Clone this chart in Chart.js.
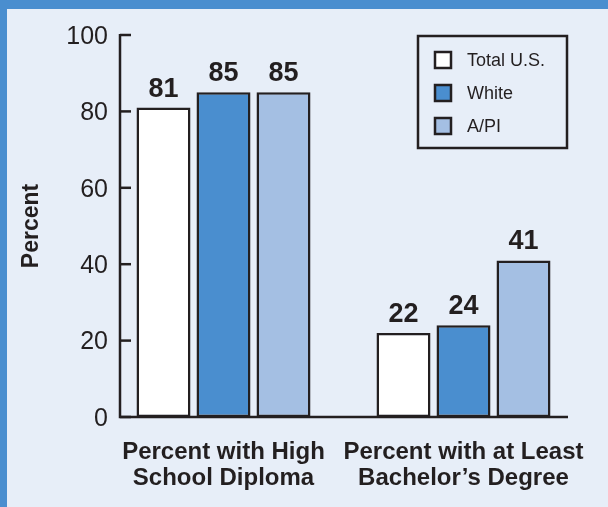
<!DOCTYPE html>
<html>
<head>
<meta charset="utf-8">
<style>
  html, body { margin: 0; padding: 0; background: #e7eef8; }
  #wrap { width: 608px; height: 507px; position: relative; }
</style>
<script src="https://cdn.jsdelivr.net/npm/chart.js@4"></script>
</head>
<body>
<div id="wrap"><canvas id="chart" width="608" height="507"></canvas></div>
<script>
const categories = [
  ["Percent with High", "School Diploma"],
  ["Percent with at Least", "Bachelor\u2019s Degree"],
];
const seriesNames = ["Total U.S.", "White", "A/PI"];
const totalUS = [81, 22];
const white = [85, 24];
const api = [85, 41];
const yTicks = [0, 20, 40, 60, 80, 100];

const FONT = "'Liberation Sans', Arial, Helvetica, sans-serif";
const INK = "#231f20";
const BG = "#e7eef8";
const FRAME = "#4a8ecf";
const COLORS = ["#ffffff", "#4a8ecf", "#a4bfe3"];

// frame, axes, value labels and legend box
const decor = {
  id: "decor",
  beforeDraw(chart) {
    const ctx = chart.ctx;
    ctx.save();
    ctx.fillStyle = BG;
    ctx.fillRect(0, 0, chart.width, chart.height);
    ctx.fillStyle = FRAME;
    ctx.fillRect(0, 0, chart.width, 9);
    ctx.fillRect(0, 0, 7, chart.height);
    ctx.restore();
  },
  afterDatasetsDraw(chart) {
    const ctx = chart.ctx;
    const y = chart.scales.y;
    const axisX = 120;
    const base = y.getPixelForValue(0);
    ctx.save();
    ctx.strokeStyle = INK;
    ctx.lineWidth = 2.5;
    ctx.lineCap = "butt";
    ctx.beginPath();
    ctx.moveTo(axisX, y.getPixelForValue(100) - 1);
    ctx.lineTo(axisX, base);
    ctx.lineTo(568, base);
    ctx.stroke();
    yTicks.forEach((v) => {
      const py = y.getPixelForValue(v);
      ctx.beginPath();
      ctx.moveTo(axisX, py);
      ctx.lineTo(axisX + 11, py);
      ctx.stroke();
    });

    // value labels
    ctx.fillStyle = INK;
    ctx.font = "bold 27px " + FONT;
    ctx.textAlign = "center";
    ctx.textBaseline = "alphabetic";
    chart.data.datasets.forEach((ds, i) => {
      chart.getDatasetMeta(i).data.forEach((bar, j) => {
        ctx.fillText(String(ds.data[j]), bar.x, bar.y - 11);
      });
    });

    // legend
    ctx.lineWidth = 2.5;
    ctx.strokeRect(418, 36, 149, 112);
    ctx.font = "18px " + FONT;
    ctx.textAlign = "left";
    ctx.textBaseline = "middle";
    chart.data.datasets.forEach((ds, i) => {
      const cy = 60 + i * 33;
      ctx.fillStyle = ds.backgroundColor;
      ctx.fillRect(435, cy - 8, 16, 16);
      ctx.strokeRect(435, cy - 8, 16, 16);
      ctx.fillStyle = INK;
      ctx.fillText(ds.label, 467, cy + 1);
    });
    ctx.restore();
  },
};

const barStyle = {
  borderColor: INK,
  borderWidth: 2.5,
  borderSkipped: false,
  categoryPercentage: 0.75,
  barPercentage: 0.9,
};

new Chart(document.getElementById("chart"), {
  type: "bar",
  data: {
    labels: categories,
    datasets: [
      { label: seriesNames[0], data: totalUS, backgroundColor: COLORS[0], ...barStyle },
      { label: seriesNames[1], data: white, backgroundColor: COLORS[1], ...barStyle },
      { label: seriesNames[2], data: api, backgroundColor: COLORS[2], ...barStyle },
    ],
  },
  options: {
    responsive: false,
    animation: false,
    events: [],
    layout: { padding: { top: 35, right: 24.5, bottom: 0, left: 0 } },
    plugins: {
      legend: { display: false },
      tooltip: { enabled: false },
    },
    scales: {
      x: {
        offset: true,
        grid: { display: false, drawTicks: false },
        border: { display: false },
        afterFit: (s) => {
          s.height = 90;
          s.paddingLeft = 0;
          s.paddingRight = 0;
        },
        ticks: {
          padding: 22.5,
          color: INK,
          maxRotation: 0,
          autoSkip: false,
          font: { family: FONT, size: 24, weight: "bold", lineHeight: 1.08 },
        },
      },
      y: {
        min: 0,
        max: 100,
        grid: { display: false, drawTicks: false },
        border: { display: false },
        afterFit: (s) => { s.width = 103.5; },
        afterBuildTicks: (s) => { s.ticks = yTicks.map((v) => ({ value: v })); },
        title: {
          display: true,
          text: "Percent",
          color: INK,
          padding: { top: 18, bottom: 0 },
          font: { family: FONT, size: 23, weight: "bold", lineHeight: 1.2 },
        },
        ticks: {
          // mirrored + right aligned so the labels can sit a little past the scale box
          mirror: true,
          crossAlign: "far",
          padding: -37.2,
          labelOffset: 2,
          color: INK,
          font: { family: FONT, size: 25 },
        },
      },
    },
  },
  plugins: [decor],
});
</script>
</body>
</html>
